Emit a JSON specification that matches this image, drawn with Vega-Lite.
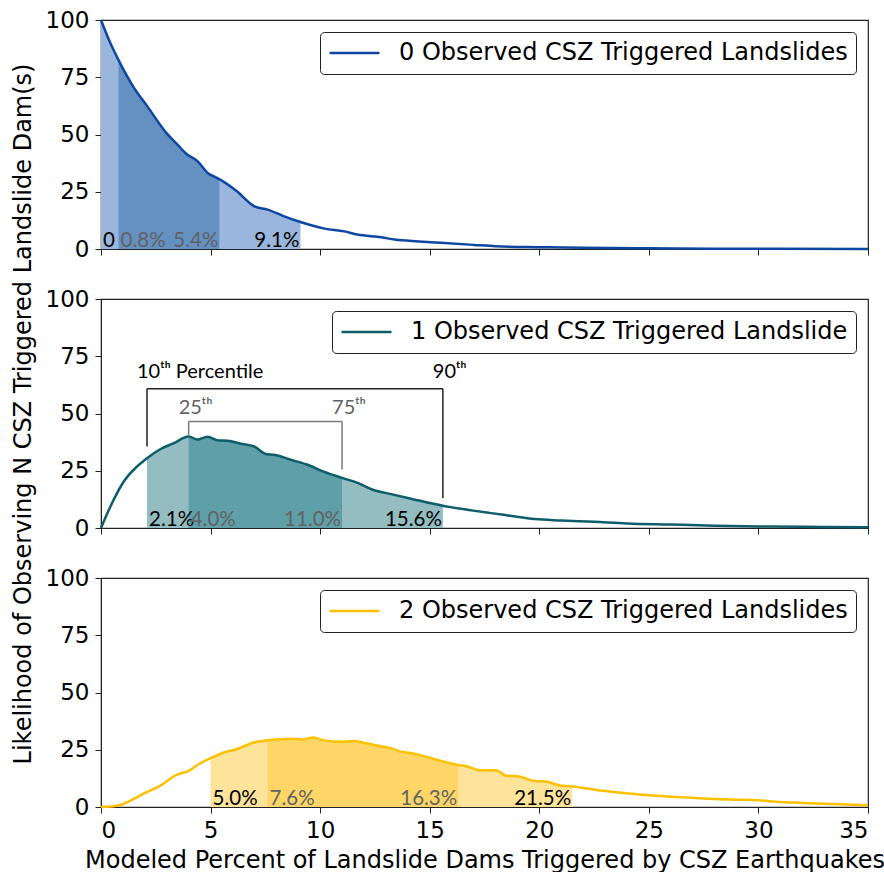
{
  "$schema": "https://vega.github.io/schema/vega-lite/v6.json",
  "padding": {"left": 10, "top": 8, "right": 0, "bottom": 0},
  "background": "white",
  "config": {
    "font": "DejaVu Sans",
    "view": {"stroke": "#222", "strokeWidth": 1.2},
    "axis": {"labelFontSize": 23, "labelColor": "black", "labelFont": "DejaVu Sans", "titleFont": "DejaVu Sans", "titleFontSize": 24, "titleFontWeight": "normal", "titleColor": "black", "tickColor": "#222", "domainColor": "#222", "tickSize": 6, "grid": false, "labelPadding": 6},
    "legend": {"orient": "top-right", "offset": 12, "padding": 8, "strokeColor": "#222", "fillColor": "white", "cornerRadius": 4, "symbolType": "stroke", "symbolSize": 2500, "symbolStrokeWidth": 2.5, "labelFontSize": 24, "labelFont": "DejaVu Sans", "labelColor": "black", "labelLimit": 700, "labelOffset": 18, "clipHeight": 26}
  },
  "datasets": {
    "curves": [
      {"p": 0, "x": 0, "y": 100}, {"p": 0, "x": 0.4, "y": 90.5}, {"p": 0, "x": 0.8, "y": 82.5}, {"p": 0, "x": 1.5, "y": 70.5}, {"p": 0, "x": 2.1, "y": 62.5}, {"p": 0, "x": 3.0, "y": 50.5}, {"p": 0, "x": 3.5, "y": 45.5}, {"p": 0, "x": 3.9, "y": 41.5}, {"p": 0, "x": 4.4, "y": 38.4}, {"p": 0, "x": 4.9, "y": 33}, {"p": 0, "x": 5.2, "y": 31.5}, {"p": 0, "x": 5.4, "y": 30.5}, {"p": 0, "x": 6.2, "y": 25.2}, {"p": 0, "x": 7.0, "y": 18.6}, {"p": 0, "x": 7.6, "y": 17.2}, {"p": 0, "x": 8.3, "y": 14.5}, {"p": 0, "x": 9.1, "y": 11.8}, {"p": 0, "x": 10.2, "y": 8.9}, {"p": 0, "x": 11.1, "y": 7.7}, {"p": 0, "x": 11.7, "y": 6.3}, {"p": 0, "x": 12.8, "y": 5.1}, {"p": 0, "x": 13.4, "y": 4.1}, {"p": 0, "x": 14.5, "y": 3.3}, {"p": 0, "x": 15.5, "y": 2.7}, {"p": 0, "x": 17, "y": 1.8}, {"p": 0, "x": 18, "y": 1.2}, {"p": 0, "x": 20, "y": 0.8}, {"p": 0, "x": 22, "y": 0.5}, {"p": 0, "x": 25, "y": 0.3}, {"p": 0, "x": 28, "y": 0.15}, {"p": 0, "x": 31, "y": 0.1}, {"p": 0, "x": 35, "y": 0.05},
      {"p": 1, "x": 0, "y": 0}, {"p": 1, "x": 0.43, "y": 9.4}, {"p": 1, "x": 1.04, "y": 20.3}, {"p": 1, "x": 1.65, "y": 26.9}, {"p": 1, "x": 2.1, "y": 30.5}, {"p": 1, "x": 2.72, "y": 34.5}, {"p": 1, "x": 3.33, "y": 37.1}, {"p": 1, "x": 4.0, "y": 40.0}, {"p": 1, "x": 4.4, "y": 38.6}, {"p": 1, "x": 4.86, "y": 39.9}, {"p": 1, "x": 5.31, "y": 38.3}, {"p": 1, "x": 5.77, "y": 38.1}, {"p": 1, "x": 6.38, "y": 36.8}, {"p": 1, "x": 6.99, "y": 35.6}, {"p": 1, "x": 7.52, "y": 32.3}, {"p": 1, "x": 7.9, "y": 32.0}, {"p": 1, "x": 8.66, "y": 29.8}, {"p": 1, "x": 9.43, "y": 27.6}, {"p": 1, "x": 10.19, "y": 24.5}, {"p": 1, "x": 11.0, "y": 21.9}, {"p": 1, "x": 11.71, "y": 19.7}, {"p": 1, "x": 12.4, "y": 16.7}, {"p": 1, "x": 13.24, "y": 14.8}, {"p": 1, "x": 14.15, "y": 12.8}, {"p": 1, "x": 15.6, "y": 9.7}, {"p": 1, "x": 16.9, "y": 7.7}, {"p": 1, "x": 17.8, "y": 6.5}, {"p": 1, "x": 18.57, "y": 5.5}, {"p": 1, "x": 19.8, "y": 3.9}, {"p": 1, "x": 21.0, "y": 3.3}, {"p": 1, "x": 22.5, "y": 2.7}, {"p": 1, "x": 24, "y": 2.0}, {"p": 1, "x": 26, "y": 1.5}, {"p": 1, "x": 28, "y": 1.0}, {"p": 1, "x": 30, "y": 0.7}, {"p": 1, "x": 32, "y": 0.5}, {"p": 1, "x": 35, "y": 0.3},
      {"p": 2, "x": 0, "y": 0}, {"p": 2, "x": 0.79, "y": 0.7}, {"p": 2, "x": 1.47, "y": 3.4}, {"p": 2, "x": 2.08, "y": 6.5}, {"p": 2, "x": 2.69, "y": 9.2}, {"p": 2, "x": 3.45, "y": 14.0}, {"p": 2, "x": 3.98, "y": 15.7}, {"p": 2, "x": 4.51, "y": 19.0}, {"p": 2, "x": 5.0, "y": 21.3}, {"p": 2, "x": 5.57, "y": 23.7}, {"p": 2, "x": 6.18, "y": 25.2}, {"p": 2, "x": 7.01, "y": 28.3}, {"p": 2, "x": 7.6, "y": 29.1}, {"p": 2, "x": 8.6, "y": 29.8}, {"p": 2, "x": 9.2, "y": 29.5}, {"p": 2, "x": 9.7, "y": 30.4}, {"p": 2, "x": 10.12, "y": 29.2}, {"p": 2, "x": 11.03, "y": 28.5}, {"p": 2, "x": 11.49, "y": 28.8}, {"p": 2, "x": 12.1, "y": 27.8}, {"p": 2, "x": 12.7, "y": 26.6}, {"p": 2, "x": 13.23, "y": 25.7}, {"p": 2, "x": 13.69, "y": 24.1}, {"p": 2, "x": 14.06, "y": 23.7}, {"p": 2, "x": 14.98, "y": 21.5}, {"p": 2, "x": 15.74, "y": 19.6}, {"p": 2, "x": 16.3, "y": 18.3}, {"p": 2, "x": 16.65, "y": 17.9}, {"p": 2, "x": 17.25, "y": 16.1}, {"p": 2, "x": 18.0, "y": 16.1}, {"p": 2, "x": 18.54, "y": 13.5}, {"p": 2, "x": 18.92, "y": 13.5}, {"p": 2, "x": 19.83, "y": 11.3}, {"p": 2, "x": 20.29, "y": 11.1}, {"p": 2, "x": 20.9, "y": 9.5}, {"p": 2, "x": 21.5, "y": 9.0}, {"p": 2, "x": 22.7, "y": 7.3}, {"p": 2, "x": 24, "y": 6.0}, {"p": 2, "x": 25, "y": 5.1}, {"p": 2, "x": 26, "y": 4.5}, {"p": 2, "x": 27, "y": 4.0}, {"p": 2, "x": 28, "y": 3.5}, {"p": 2, "x": 29, "y": 3.2}, {"p": 2, "x": 30, "y": 2.9}, {"p": 2, "x": 31, "y": 2.2}, {"p": 2, "x": 32, "y": 1.8}, {"p": 2, "x": 33, "y": 1.4}, {"p": 2, "x": 34, "y": 1.1}, {"p": 2, "x": 35, "y": 0.8}
    ],
    "pctl": [
      {"p": 0, "pctl": 10, "x": 0, "label": "0"}, {"p": 0, "pctl": 25, "x": 0.8, "label": "0.8%"}, {"p": 0, "pctl": 75, "x": 5.4, "label": "5.4%"}, {"p": 0, "pctl": 90, "x": 9.1, "label": "9.1%"},
      {"p": 1, "pctl": 10, "x": 2.1, "label": "2.1%"}, {"p": 1, "pctl": 25, "x": 4.0, "label": "4.0%"}, {"p": 1, "pctl": 75, "x": 11.0, "label": "11.0%"}, {"p": 1, "pctl": 90, "x": 15.6, "label": "15.6%"},
      {"p": 2, "pctl": 10, "x": 5.0, "label": "5.0%"}, {"p": 2, "pctl": 25, "x": 7.6, "label": "7.6%"}, {"p": 2, "pctl": 75, "x": 16.3, "label": "16.3%"}, {"p": 2, "pctl": 90, "x": 21.5, "label": "21.5%"}
    ],
    "brackets": [
      {"pair": "outer", "x": 2.1, "x2": 15.6, "y": 60.8, "y2": 60.8},
      {"pair": "outer", "x": 2.1, "x2": 2.1, "y": 35.6, "y2": 60.8},
      {"pair": "outer", "x": 15.6, "x2": 15.6, "y": 13.1, "y2": 60.8},
      {"pair": "inner", "x": 4.0, "x2": 11.0, "y": 46.5, "y2": 46.5},
      {"pair": "inner", "x": 4.0, "x2": 4.0, "y": 40.0, "y2": 46.5},
      {"pair": "inner", "x": 11.0, "x2": 11.0, "y": 25.5, "y2": 46.5}
    ],
    "bracketText": [
      {"pair": "outer", "x": 2.1, "y": 65.5, "label": "10ᵗʰ Percentile"},
      {"pair": "outer", "x": 15.6, "y": 65.5, "label": "90ᵗʰ"},
      {"pair": "inner", "x": 4.0, "y": 49.9, "label": "25ᵗʰ"},
      {"pair": "inner", "x": 11.0, "y": 49.9, "label": "75ᵗʰ"}
    ]
  },
  "vconcat": [
    {
      "width": 767, "height": 229,
      "layer": [
        {"data": {"name": "curves"}, "transform": [{"filter": "datum.p == 0"}, {"filter": {"field": "x", "range": [0, 9.1]}}],
         "mark": {"type": "area", "color": "#9ab6dc", "interpolate": "monotone"},
         "encoding": {"x": {"field": "x", "type": "quantitative", "scale": {"domain": [0, 35], "nice": false}, "axis": {"values": [0, 5, 10, 15, 20, 25, 30, 35], "labels": false, "title": null}}, "y": {"field": "y", "type": "quantitative", "scale": {"domain": [0, 100], "nice": false}, "axis": {"values": [0, 25, 50, 75, 100], "title": null}}}},
        {"data": {"name": "curves"}, "transform": [{"filter": "datum.p == 0"}, {"filter": {"field": "x", "range": [0.8, 5.4]}}],
         "mark": {"type": "area", "color": "#6490c2", "interpolate": "monotone"},
         "encoding": {"x": {"field": "x", "type": "quantitative"}, "y": {"field": "y", "type": "quantitative"}}},
        {"data": {"name": "curves"}, "transform": [{"filter": "datum.p == 0"}],
         "mark": {"type": "line", "strokeWidth": 2.5, "interpolate": "monotone"},
         "encoding": {"x": {"field": "x", "type": "quantitative"}, "y": {"field": "y", "type": "quantitative"},
           "color": {"datum": "0 Observed CSZ Triggered Landslides", "scale": {"range": ["#0d47a1"]}, "legend": {"title": null}}}},
        {"data": {"name": "pctl"}, "transform": [{"filter": "datum.p == 0 && datum.pctl <= 25"}],
         "mark": {"type": "text", "align": "left", "baseline": "alphabetic", "font": "Lato", "fontSize": 20.5, "dy": -2, "dx": 2},
         "encoding": {"x": {"field": "x", "type": "quantitative"}, "y": {"datum": 0}, "text": {"field": "label"},
           "fill": {"condition": {"test": "datum.pctl == 25 || datum.pctl == 75", "value": "#626262"}, "value": "black"}}},
        {"data": {"name": "pctl"}, "transform": [{"filter": "datum.p == 0 && datum.pctl >= 75"}],
         "mark": {"type": "text", "align": "right", "baseline": "alphabetic", "font": "Lato", "fontSize": 20.5, "dy": -2, "dx": -1},
         "encoding": {"x": {"field": "x", "type": "quantitative"}, "y": {"datum": 0}, "text": {"field": "label"},
           "fill": {"condition": {"test": "datum.pctl == 25 || datum.pctl == 75", "value": "#626262"}, "value": "black"}}}
      ]
    },
    {
      "width": 767, "height": 229,
      "layer": [
        {"data": {"name": "curves"}, "transform": [{"filter": "datum.p == 1"}, {"filter": {"field": "x", "range": [2.1, 15.6]}}],
         "mark": {"type": "area", "color": "#94bdc1", "interpolate": "monotone"},
         "encoding": {"x": {"field": "x", "type": "quantitative", "scale": {"domain": [0, 35], "nice": false}, "axis": {"values": [0, 5, 10, 15, 20, 25, 30, 35], "labels": false, "title": null}}, "y": {"field": "y", "type": "quantitative", "scale": {"domain": [0, 100], "nice": false}, "axis": {"values": [0, 25, 50, 75, 100], "title": "Likelihood of Observing N CSZ Triggered Landslide Dam(s)", "titlePadding": 10}}}},
        {"data": {"name": "curves"}, "transform": [{"filter": "datum.p == 1"}, {"filter": {"field": "x", "range": [4.0, 11.0]}}],
         "mark": {"type": "area", "color": "#5f9fa8", "interpolate": "monotone"},
         "encoding": {"x": {"field": "x", "type": "quantitative"}, "y": {"field": "y", "type": "quantitative"}}},
        {"data": {"name": "curves"}, "transform": [{"filter": "datum.p == 1"}],
         "mark": {"type": "line", "strokeWidth": 2.5, "interpolate": "monotone"},
         "encoding": {"x": {"field": "x", "type": "quantitative"}, "y": {"field": "y", "type": "quantitative"},
           "color": {"datum": "1 Observed CSZ Triggered Landslide", "scale": {"range": ["#0e5d6b"]}, "legend": {"title": null}}}},
        {"data": {"name": "brackets"},
         "mark": {"type": "rule", "strokeWidth": 1.5},
         "encoding": {"x": {"field": "x", "type": "quantitative"}, "x2": {"field": "x2"}, "y": {"field": "y", "type": "quantitative"}, "y2": {"field": "y2"},
           "stroke": {"condition": {"test": "datum.pair == 'inner'", "value": "#7a7a7a"}, "value": "#222"}}},
        {"data": {"name": "bracketText"},
         "mark": {"type": "text", "align": "left", "baseline": "alphabetic", "font": "Lato", "fontSize": 20, "dx": -10},
         "encoding": {"x": {"field": "x", "type": "quantitative"}, "y": {"field": "y", "type": "quantitative"}, "text": {"field": "label"},
           "fill": {"condition": {"test": "datum.pair == 'inner'", "value": "#626262"}, "value": "black"}}},
        {"data": {"name": "pctl"}, "transform": [{"filter": "datum.p == 1 && datum.pctl <= 25"}],
         "mark": {"type": "text", "align": "left", "baseline": "alphabetic", "font": "Lato", "fontSize": 20.5, "dy": -2, "dx": 2},
         "encoding": {"x": {"field": "x", "type": "quantitative"}, "y": {"datum": 0}, "text": {"field": "label"},
           "fill": {"condition": {"test": "datum.pctl == 25 || datum.pctl == 75", "value": "#626262"}, "value": "black"}}},
        {"data": {"name": "pctl"}, "transform": [{"filter": "datum.p == 1 && datum.pctl >= 75"}],
         "mark": {"type": "text", "align": "right", "baseline": "alphabetic", "font": "Lato", "fontSize": 20.5, "dy": -2, "dx": -1},
         "encoding": {"x": {"field": "x", "type": "quantitative"}, "y": {"datum": 0}, "text": {"field": "label"},
           "fill": {"condition": {"test": "datum.pctl == 25 || datum.pctl == 75", "value": "#626262"}, "value": "black"}}}
      ]
    },
    {
      "width": 767, "height": 229,
      "layer": [
        {"data": {"name": "curves"}, "transform": [{"filter": "datum.p == 2"}, {"filter": {"field": "x", "range": [5.0, 21.5]}}],
         "mark": {"type": "area", "color": "#fee49b", "interpolate": "monotone"},
         "encoding": {"x": {"field": "x", "type": "quantitative", "scale": {"domain": [0, 35], "nice": false}, "axis": {"values": [0, 5, 10, 15, 20, 25, 30, 35], "title": "Modeled Percent of Landslide Dams Triggered by CSZ Earthquakes", "titlePadding": 6}}, "y": {"field": "y", "type": "quantitative", "scale": {"domain": [0, 100], "nice": false}, "axis": {"values": [0, 25, 50, 75, 100], "title": null}}}},
        {"data": {"name": "curves"}, "transform": [{"filter": "datum.p == 2"}, {"filter": {"field": "x", "range": [7.6, 16.3]}}],
         "mark": {"type": "area", "color": "#fdd667", "interpolate": "monotone"},
         "encoding": {"x": {"field": "x", "type": "quantitative"}, "y": {"field": "y", "type": "quantitative"}}},
        {"data": {"name": "curves"}, "transform": [{"filter": "datum.p == 2"}],
         "mark": {"type": "line", "strokeWidth": 2.5, "interpolate": "monotone"},
         "encoding": {"x": {"field": "x", "type": "quantitative"}, "y": {"field": "y", "type": "quantitative"},
           "color": {"datum": "2 Observed CSZ Triggered Landslides", "scale": {"range": ["#ffc000"]}, "legend": {"title": null}}}},
        {"data": {"name": "pctl"}, "transform": [{"filter": "datum.p == 2 && datum.pctl <= 25"}],
         "mark": {"type": "text", "align": "left", "baseline": "alphabetic", "font": "Lato", "fontSize": 20.5, "dy": -2, "dx": 2},
         "encoding": {"x": {"field": "x", "type": "quantitative"}, "y": {"datum": 0}, "text": {"field": "label"},
           "fill": {"condition": {"test": "datum.pctl == 25 || datum.pctl == 75", "value": "#626262"}, "value": "black"}}},
        {"data": {"name": "pctl"}, "transform": [{"filter": "datum.p == 2 && datum.pctl >= 75"}],
         "mark": {"type": "text", "align": "right", "baseline": "alphabetic", "font": "Lato", "fontSize": 20.5, "dy": -2, "dx": -1},
         "encoding": {"x": {"field": "x", "type": "quantitative"}, "y": {"datum": 0}, "text": {"field": "label"},
           "fill": {"condition": {"test": "datum.pctl == 25 || datum.pctl == 75", "value": "#626262"}, "value": "black"}}}
      ]
    }
  ],
  "spacing": 50,
  "bounds": "flush",
  "resolve": {"scale": {"color": "independent"}, "legend": {"color": "independent"}}
}
